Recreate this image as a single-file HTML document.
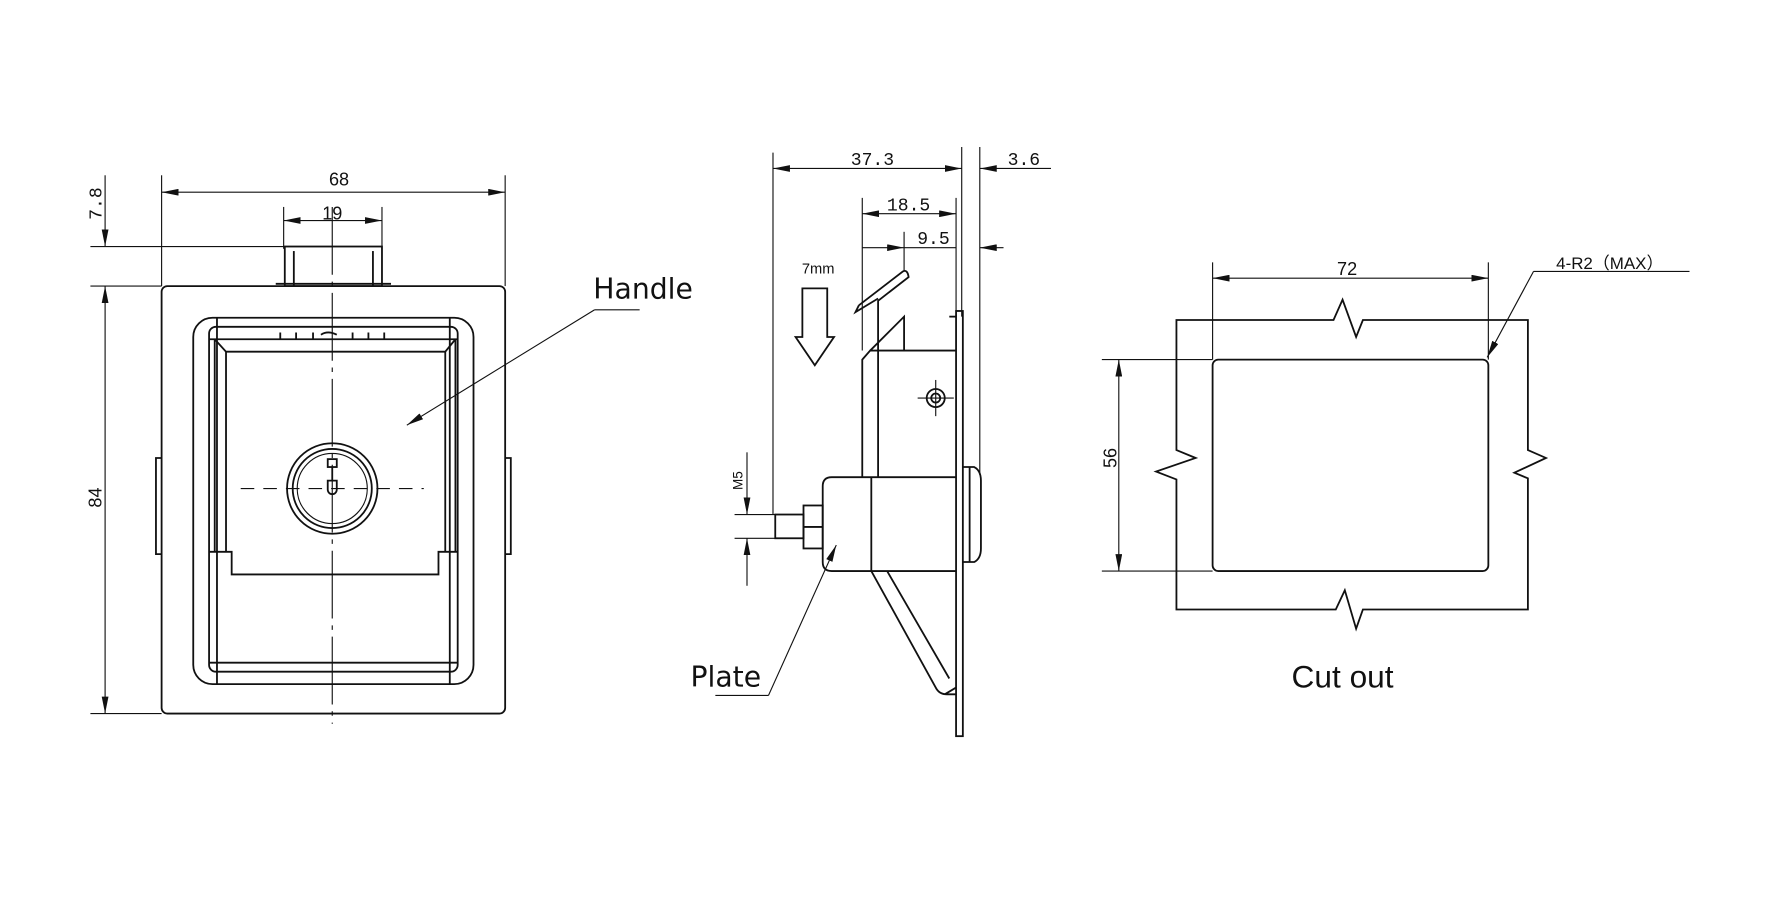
<!DOCTYPE html>
<html><head><meta charset="utf-8"><style>
html,body{margin:0;padding:0;background:#fff;}
svg{display:block;}
text{font-family:"Liberation Sans",sans-serif;fill:#111;}
.m{font-family:"Liberation Mono","DejaVu Sans Mono",monospace;}
</style></head><body>
<svg width="1772" height="899" viewBox="0 0 1568 795" preserveAspectRatio="none" xmlns="http://www.w3.org/2000/svg">
<defs>
<marker id="a" viewBox="0 0 15 6" refX="15" refY="3" markerWidth="15" markerHeight="6" orient="auto-start-reverse" markerUnits="userSpaceOnUse"><path d="M0,0 L15,3 L0,6 Z" fill="#111"/></marker>
</defs>
<g stroke="#111" fill="none" stroke-width="1">
<line x1="143" y1="155" x2="143" y2="253"/><line x1="447" y1="155" x2="447" y2="253"/>
<line x1="143" y1="170" x2="447" y2="170" marker-start="url(#a)" marker-end="url(#a)"/>
<line x1="251" y1="183" x2="251" y2="220"/><line x1="338" y1="183" x2="338" y2="220"/>
<line x1="251" y1="195" x2="338" y2="195" marker-start="url(#a)" marker-end="url(#a)"/>
<line x1="93" y1="155" x2="93" y2="218" marker-end="url(#a)"/>
<line x1="93" y1="253" x2="93" y2="631" marker-start="url(#a)" marker-end="url(#a)"/>
<line x1="80" y1="218" x2="251" y2="218"/><line x1="80" y1="253" x2="143" y2="253"/><line x1="80" y1="631" x2="143" y2="631"/>
</g>
<g stroke="#111" fill="none" stroke-width="1.6">
<rect x="252" y="218" width="86" height="35"/>
<line x1="260" y1="222" x2="260" y2="253"/><line x1="330" y1="222" x2="330" y2="253"/>
<line x1="244" y1="251" x2="346" y2="251"/>
<rect x="143" y="253" width="304" height="378" rx="5"/>
<path d="M143,405 h-5 v85 h5 M447,405 h5 v85 h-5"/>
<rect x="171" y="281" width="248" height="324" rx="17"/>
<rect x="185" y="289" width="220" height="305" rx="6"/>
<line x1="192" y1="281" x2="192" y2="605"/><line x1="398" y1="281" x2="398" y2="605"/>
<line x1="185" y1="300" x2="405" y2="300"/>
<path d="M190,488 V300 M403,300 V488"/>
<path d="M190,300 L200,311 H394 L403,300"/>
<line x1="200" y1="311" x2="200" y2="488"/><line x1="394" y1="311" x2="394" y2="488"/>
<path d="M185,488 H205 V508 H388 V488 H405"/>
<line x1="185" y1="586" x2="405" y2="586"/>
<path d="M248,294 v6 M262,294 v6 M277,294 v6 M312,294 v6 M326,294 v6 M340,294 v6"/>
<path d="M284,296 q6,-4 14,0"/>
<circle cx="294" cy="432" r="40"/><circle cx="294" cy="432" r="35"/><circle cx="294" cy="432" r="31" stroke-width="1"/>
<rect x="290" y="406" width="8" height="7"/><path d="M290,425 h8 v8 a4,4 0 0 1 -8,0 z"/>
<line x1="294" y1="413" x2="294" y2="425"/>
</g>
<g stroke="#111" fill="none" stroke-width="1">
<line x1="294" y1="183" x2="294" y2="640" stroke-dasharray="60,6,4,6"/>
<line x1="213" y1="432" x2="375" y2="432" stroke-dasharray="12,8"/>
<path d="M526,274 H566"/><line x1="526" y1="274" x2="360" y2="376" marker-end="url(#a)"/>
</g>
<text x="300" y="164" font-size="16" text-anchor="middle">68</text>
<text x="294" y="194" font-size="16" text-anchor="middle">19</text>
<text class="m" transform="translate(90,180) rotate(-90)" font-size="16" text-anchor="middle">7.8</text>
<text transform="translate(90,440) rotate(-90)" font-size="16" text-anchor="middle">84</text>
<text x="525" y="264" font-size="25" style="font-family:'DejaVu Sans',sans-serif">Handle</text>

<g stroke="#111" fill="none" stroke-width="1">
<line x1="684" y1="135" x2="684" y2="455"/><line x1="851" y1="130" x2="851" y2="280"/><line x1="867" y1="130" x2="867" y2="420"/>
<line x1="684" y1="149" x2="851" y2="149" marker-start="url(#a)" marker-end="url(#a)"/>
<line x1="930" y1="149" x2="867" y2="149" marker-end="url(#a)"/>
<line x1="763" y1="175" x2="763" y2="310"/><line x1="846" y1="175" x2="846" y2="280"/>
<line x1="763" y1="189" x2="846" y2="189" marker-start="url(#a)" marker-end="url(#a)"/>
<line x1="800" y1="205" x2="800" y2="240"/>
<line x1="763" y1="219" x2="800" y2="219" marker-end="url(#a)"/>
<line x1="888" y1="219" x2="867" y2="219" marker-end="url(#a)"/>
<line x1="800" y1="219" x2="846" y2="219"/>
<line x1="661" y1="400" x2="661" y2="455" marker-end="url(#a)"/>
<line x1="661" y1="518" x2="661" y2="476" marker-end="url(#a)"/>
<line x1="650" y1="455" x2="686" y2="455"/><line x1="650" y1="476" x2="686" y2="476"/>
<path d="M633,615 H680"/><line x1="680" y1="615" x2="740" y2="482" marker-end="url(#a)"/>
<line x1="812" y1="352" x2="844" y2="352"/><line x1="828" y1="336" x2="828" y2="368"/>
</g>
<g stroke="#111" fill="none" stroke-width="1.6">
<path d="M710,255 H732 V298 H738 L721,323 L704,298 H710 Z"/>
<path d="M763,422 V318 L770,310 H846"/>
<line x1="777" y1="310" x2="777" y2="422"/>
<path d="M770,310 L800,280 V310 M760,270 L799,240 Q803,238 804,245 L777,266 V310 M760,270 L757,276 L777,264"/>
<rect x="846" y="275" width="6" height="376"/>
<line x1="846" y1="280" x2="840" y2="280"/>
<circle cx="828" cy="352" r="8"/><circle cx="828" cy="352" r="4"/>
<path d="M846,422 H736 Q728,422 728,430 V497 Q728,505 736,505 H846"/>
<line x1="771" y1="422" x2="771" y2="505"/>
<rect x="711" y="447" width="17" height="38"/><line x1="711" y1="466" x2="728" y2="466"/>
<rect x="686" y="455" width="25" height="21"/>
<path d="M852,413 H862 Q868,416 868,425 V485 Q868,494 862,497 H852"/>
<line x1="858" y1="413" x2="858" y2="497"/>
<path d="M771,505 L828,608 Q831,614 838,614 H846 M785,505 L840,600 M836,614 L846,608"/>
</g>
<text class="m" x="772" y="146" font-size="16" text-anchor="middle">37.3</text>
<text class="m" x="906" y="146" font-size="16" text-anchor="middle">3.6</text>
<text class="m" x="804" y="186" font-size="16" text-anchor="middle">18.5</text>
<text class="m" x="826" y="216" font-size="16" text-anchor="middle">9.5</text>
<text x="724" y="242" font-size="13" text-anchor="middle">7mm</text>
<text transform="translate(657,425) rotate(-90)" font-size="12" text-anchor="middle">M5</text>
<text x="611" y="607" font-size="25" style="font-family:'DejaVu Sans',sans-serif">Plate</text>

<g stroke="#111" fill="none" stroke-width="1">
<line x1="1073" y1="232" x2="1073" y2="318"/><line x1="1317" y1="232" x2="1317" y2="318"/>
<line x1="1073" y1="246" x2="1317" y2="246" marker-start="url(#a)" marker-end="url(#a)"/>
<line x1="975" y1="318" x2="1073" y2="318"/><line x1="975" y1="505" x2="1073" y2="505"/>
<line x1="990" y1="318" x2="990" y2="505" marker-start="url(#a)" marker-end="url(#a)"/>
<path d="M1495,240 H1357"/><line x1="1357" y1="240" x2="1316" y2="316" marker-end="url(#a)"/>
</g>
<g stroke="#111" fill="none" stroke-width="1.6">
<path d="M1041,283 H1180 L1188,265 L1200,298 L1206,283 H1352 V398 L1368,405 L1340,418 L1352,423 V539 H1206 L1200,556 L1190,522 L1182,539 H1041 V424 L1023,417 L1058,405 L1041,398 Z"/>
<rect x="1073" y="318" width="244" height="187" rx="5"/>
</g>
<text x="1192" y="243" font-size="16" text-anchor="middle">72</text>
<text transform="translate(988,405) rotate(-90)" font-size="16" text-anchor="middle">56</text>
<text x="1377" y="238" font-size="15">4-R2（MAX）</text>
<text x="1188" y="608" font-size="28" text-anchor="middle">Cut out</text>
</svg>
</body></html>
